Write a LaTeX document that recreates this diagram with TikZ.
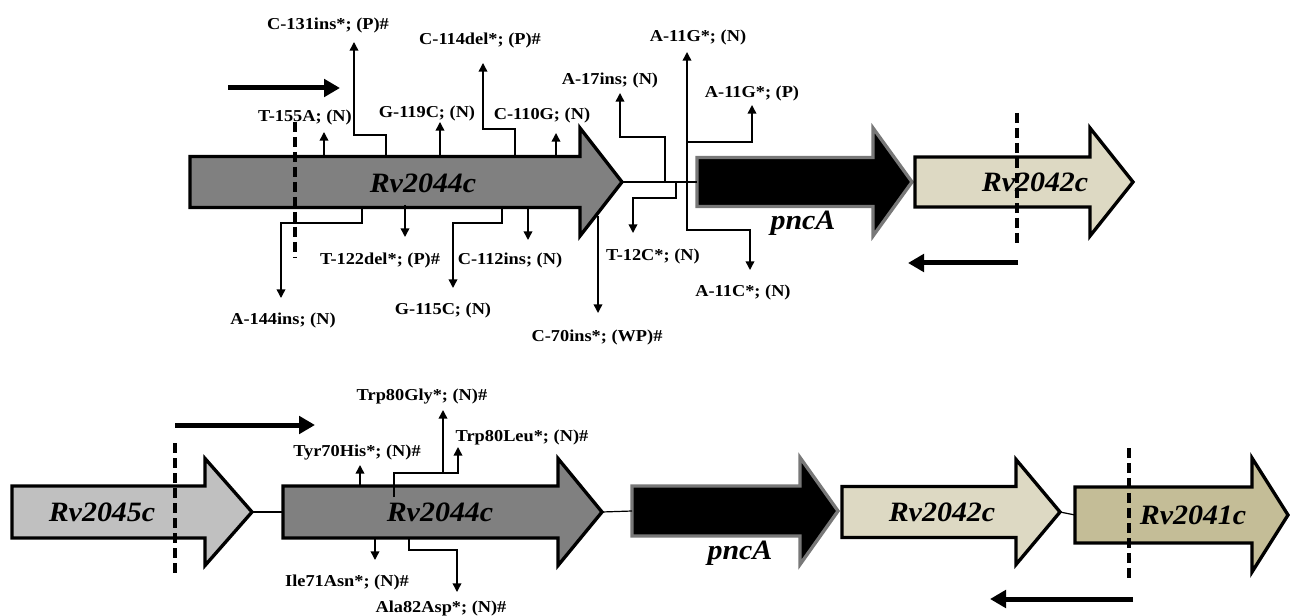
\documentclass[tikz,border=0pt]{standalone}
\usepackage{fontspec}
\setmainfont{Liberation Serif}
\newfontfamily\mutfont[FakeStretch=1.1]{Liberation Serif}
\newfontfamily\genefont[FakeStretch=1.07]{Liberation Serif}
\usetikzlibrary{arrows.meta}
\definecolor{genegray}{RGB}{128,128,128}
\definecolor{genelight}{RGB}{192,192,192}
\definecolor{pncborder}{RGB}{120,120,120}
\definecolor{rvbeige}{RGB}{221,217,195}
\definecolor{rvolive}{RGB}{196,189,151}

\tikzset{
  genebox/.style={draw=black, line width=2.5pt, line join=miter},
  link/.style={line width=0.9pt},
  mutline/.style={line width=1.1pt, -{Triangle[length=6.5pt,width=6.5pt]}},
  strand/.style={line width=3.75pt, -{Triangle[length=12pt,width=13pt]}},
  cutline/.style={line width=3pt, dash pattern=on 7.5pt off 3.75pt},
  mutlbl/.style={font=\mutfont\bfseries\fontsize{12.5}{14}\selectfont, inner sep=0pt},
  genelbl/.style={font=\genefont\bfseries\itshape\fontsize{21}{24}\selectfont, inner sep=0pt}
}

% #1 style, #2 name, #3 left, #4 head start, #5 tip, #6 centre y, #7 body half, #8 head half
\newcommand{\genearrow}[8]{%
  \draw[genebox,#1] (#3,#6-#7) -- (#4,#6-#7) -- (#4,#6-#8) -- (#5,#6)
    -- (#4,#6+#8) -- (#4,#6+#7) -- (#3,#6+#7) -- cycle;
  \coordinate (#2-w) at (#3,#6);
  \coordinate (#2-e) at (#5,#6);
}

\begin{document}
\begin{tikzpicture}[x=0.75pt,y=-0.75pt]
\useasboundingbox (0,0) rectangle (1291,616);

% upper map
\genearrow{fill=genegray}{ua}{190}{580}{622}{182}{25.5}{54}
\genearrow{fill=black,draw=pncborder}{ub}{697}{873}{912}{182}{24.5}{54}
\genearrow{fill=rvbeige}{uc}{915}{1090}{1133}{182}{25}{54}
\draw[link] (ua-e) -- (ub-w);

\node[genelbl] (lua) at (423,183) {Rv2044c};
\node[genelbl] (lub) at (803,223) {pncA};
\node[genelbl] (luc) at (1035,182) {Rv2042c};

\draw[mutline] (324,157) -- (324,132);
\draw[mutline] (386,155) -- (386,135) -- (354,135) -- (354,42);
\draw[mutline] (440,157) -- (440,122);
\draw[mutline] (515,157) -- (515,129) -- (483,129) -- (483,63);
\draw[mutline] (556,157) -- (556,133);
\draw[mutline] (665,182) -- (665,137) -- (620,137) -- (620,93);
\draw[mutline] (687,182) -- (687,52);
\draw[mutline] (687,142) -- (752,142) -- (752,105);
\draw[mutline] (687,182) -- (687,230) -- (750,230) -- (750,270);
\draw[mutline] (676,182) -- (676,198) -- (633,198) -- (633,233);
\draw[mutline] (362,208) -- (362,223) -- (281,223) -- (281,298);
\draw[mutline] (405,205) -- (405,237);
\draw[mutline] (502,208) -- (502,223) -- (453,223) -- (453,288);
\draw[mutline] (528,208) -- (528,240);
\draw[mutline] (598,216) -- (598,313);

\node[mutlbl] (t155) at (305,117) {T-155A; (N)};
\node[mutlbl] (c131) at (328,25) {C-131ins*; (P)\#};
\node[mutlbl] (g119) at (427,113) {G-119C; (N)};
\node[mutlbl] (c114) at (480,40) {C-114del*; (P)\#};
\node[mutlbl] (c110) at (542,115) {C-110G; (N)};
\node[mutlbl] (a17) at (610,80) {A-17ins; (N)};
\node[mutlbl] (a11n) at (698,37) {A-11G*; (N)};
\node[mutlbl] (a11p) at (752,93) {A-11G*; (P)};
\node[mutlbl] (a11c) at (743,292) {A-11C*; (N)};
\node[mutlbl] (t12) at (653,256) {T-12C*; (N)};
\node[mutlbl] (a144) at (283,320) {A-144ins; (N)};
\node[mutlbl] (t122) at (380,260) {T-122del*; (P)\#};
\node[mutlbl] (g115) at (443,310) {G-115C; (N)};
\node[mutlbl] (c112) at (510,260) {C-112ins; (N)};
\node[mutlbl] (c70) at (597,337) {C-70ins*; (WP)\#};

\draw[cutline] (295,122) -- (295,258);
\draw[cutline] (1017,113) -- (1017,245);
\draw[strand] (228,88) -- (340,88);
\draw[strand] (1018,263) -- (908,263);

% lower map
\genearrow{fill=genelight}{la}{12}{205}{252}{512}{26}{53.5}
\genearrow{fill=genegray}{lb}{283}{558}{602}{512}{26}{53.5}
\genearrow{fill=black,draw=pncborder}{lc}{632}{800}{838}{511}{25}{53.5}
\genearrow{fill=rvbeige}{ld}{842}{1016}{1060}{512}{25.5}{52.5}
\genearrow{fill=rvolive}{le}{1075}{1252}{1288}{515}{28}{57}
\draw[link] (la-e) -- (lb-w);
\draw[link] (lb-e) -- (lc-w);
\draw[link] (ld-e) -- (le-w);

\node[genelbl] (lla) at (102,512) {Rv2045c};
\node[genelbl] (llb) at (440,512) {Rv2044c};
\node[genelbl] (llc) at (740,553) {pncA};
\node[genelbl] (lld) at (942,512) {Rv2042c};
\node[genelbl] (lle) at (1193,515) {Rv2041c};

\draw[mutline] (360,486) -- (360,465);
\draw[mutline] (394,497) -- (394,473) -- (443,473) -- (443,410);
\draw[mutline] (443,473) -- (458,473) -- (458,447);
\draw[mutline] (375,538) -- (375,560);
\draw[mutline] (409,538) -- (409,550) -- (457,550) -- (457,592);

\node[mutlbl] (y70) at (357,453) {Tyr70His*; (N)\#};
\node[mutlbl] (w80g) at (422,397) {Trp80Gly*; (N)\#};
\node[mutlbl] (w80l) at (522,437) {Trp80Leu*; (N)\#};
\node[mutlbl] (i71) at (347,582) {Ile71Asn*; (N)\#};
\node[mutlbl] (a82) at (441,608) {Ala82Asp*; (N)\#};

\draw[cutline] (175,443) -- (175,577);
\draw[cutline] (1129,448) -- (1129,582);
\draw[strand] (175,425) -- (315,425);
\draw[strand] (1133,599) -- (990,599);

\end{tikzpicture}
\end{document}
